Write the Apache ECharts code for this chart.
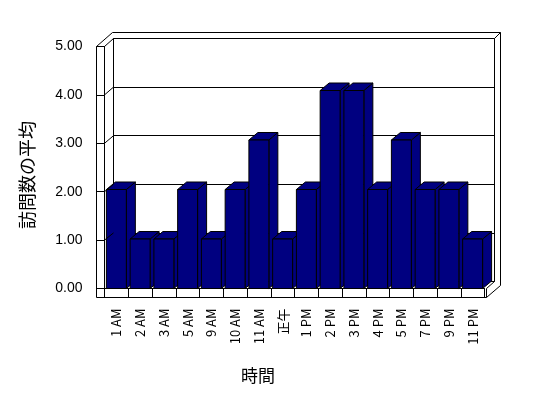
<!DOCTYPE html>
<html>
<head>
<meta charset="utf-8">
<script src="https://cdn.jsdelivr.net/npm/echarts@6/dist/echarts.min.js"></script>
<style>
  html, body { margin: 0; padding: 0; background: #fff; }
  #chart { width: 548px; height: 398px; }
</style>
</head>
<body>
<div id="chart"></div>
<script>
// data
const hours = ['1 AM', '2 AM', '3 AM', '5 AM', '9 AM', '10 AM', '11 AM', '正午', '1 PM', '2 PM', '3 PM', '4 PM', '5 PM', '7 PM', '9 PM', '11 PM'];
const avgVisits = [2, 1, 1, 2, 1, 2, 3, 1, 2, 4, 4, 2, 3, 2, 2, 1];
const yTickLabels = ['0.00', '1.00', '2.00', '3.00', '4.00', '5.00'];
const yMax = 5;

// layout of the fake 3d box (excel style)
const W = 548, H = 398;
const front = { l: 104.5, r: 484.5, t: 46.5, b: 288.5 };
const back = { l: 113.5, r: 494.5, t: 38.5, b: 281.5 };
const barTop = 41;
const depth = [9, -7.5];
const navy = '#000080';
const latin = "'Liberation Sans', Arial, sans-serif";
const cjk = "'Noto Sans CJK JP', sans-serif";

let chart = echarts.init(document.getElementById('chart'));

function frontY(v) { return front.b - (front.b - front.t) * v / yMax; }
function backY(v) { return back.b - (back.b - back.t) * v / yMax; }

function line(x1, y1, x2, y2) {
  return { type: 'line', z: 100, shape: { x1, y1, x2, y2 }, style: { stroke: '#000', lineWidth: 1 } };
}

let frame = [
  line(96.5, front.t, 96.5, 297.5),
  line(96.5, front.t, front.l, front.t),
  line(96.5, front.t, 112.5, 32.5),
  line(front.l, front.t, back.l, back.t),
  line(112.5, 32.5, 500.5, 32.5),
  line(500.5, 32.5, 500.5, 285.5),
  line(back.r, back.t, 500.5, 32.5),
  line(96.5, 297.5, 486.5, 297.5),
  line(486.5, front.b, 486.5, 297.5),
  line(486.5, 297.5, 500.5, 285.5),
  line(486.5, front.b, back.r, back.b)
];
for (let v = 1; v < yMax; v++) {
  frame.push(line(front.l, frontY(v), back.l, backY(v)));
}

chart.setOption({
  animation: false,
  grid: [
    // back wall
    { left: back.l, right: W - back.r, top: back.t, bottom: H - back.b, show: true, borderColor: '#000', borderWidth: 1 },
    // front axes
    { left: front.l, right: W - front.r, top: front.t, bottom: H - front.b },
    // bars
    { left: front.l, right: W - front.r, top: barTop, bottom: H - front.b }
  ],
  xAxis: [
    { gridIndex: 0, type: 'category', data: hours, show: false },
    {
      gridIndex: 1, type: 'category', data: hours,
      axisLine: { lineStyle: { color: '#000', width: 1 } },
      axisTick: { show: true, interval: 0, length: 9, lineStyle: { color: '#000' } },
      axisLabel: { interval: 0, rotate: 90, margin: 20, color: '#000', fontSize: 13, fontFamily: cjk },
      splitLine: { show: false }
    },
    { gridIndex: 2, type: 'category', data: hours, show: false }
  ],
  yAxis: [
    {
      gridIndex: 0, type: 'value', min: 0, max: yMax, interval: 1,
      axisLine: { show: false }, axisTick: { show: false }, axisLabel: { show: false },
      splitLine: { show: true, lineStyle: { color: '#000', width: 1 } }
    },
    {
      gridIndex: 1, type: 'value', min: 0, max: yMax, interval: 1,
      axisLine: { show: true, lineStyle: { color: '#000', width: 1 } },
      axisTick: { show: true, length: 8, lineStyle: { color: '#000' } },
      axisLabel: { margin: 22, color: '#000', fontSize: 14, fontFamily: latin, formatter: v => yTickLabels[v] },
      splitLine: { show: false }
    },
    { gridIndex: 2, type: 'value', min: 0, max: yMax, show: false, splitLine: { show: false } }
  ],
  series: [
    {
      type: 'custom',
      xAxisIndex: 2,
      yAxisIndex: 2,
      z: 10,
      data: avgVisits.map((v, i) => [i, v]),
      renderItem: function (params, api) {
        let i = api.value(0), v = api.value(1);
        let base = api.coord([i, 0]);
        let top = api.coord([i, v]);
        let bw = api.size([1, 0])[0] * 0.84;
        let l = top[0] - bw / 2, r = top[0] + bw / 2;
        let dx = depth[0], dy = depth[1];
        let st = { fill: navy, stroke: '#000', lineWidth: 1 };
        return {
          type: 'group',
          children: [
            { type: 'polygon', shape: { points: [[r, top[1]], [r + dx, top[1] + dy], [r + dx, base[1] + dy], [r, base[1]]] }, style: st },
            { type: 'polygon', shape: { points: [[l, top[1]], [l + dx, top[1] + dy], [r + dx, top[1] + dy], [r, top[1]]] }, style: st },
            { type: 'rect', shape: { x: l, y: top[1], width: bw, height: base[1] - top[1] }, style: st }
          ]
        };
      }
    }
  ],
  graphic: frame.concat([
    { type: 'text', x: 258, y: 376, style: { text: '時間', font: '17px ' + cjk, fill: '#000', align: 'center', verticalAlign: 'middle' } },
    { type: 'text', x: 27, y: 175, rotation: Math.PI / 2, style: { text: '訪問数の平均', font: '18px ' + cjk, fill: '#000', align: 'center', verticalAlign: 'middle' } }
  ])
});
</script>
</body>
</html>
